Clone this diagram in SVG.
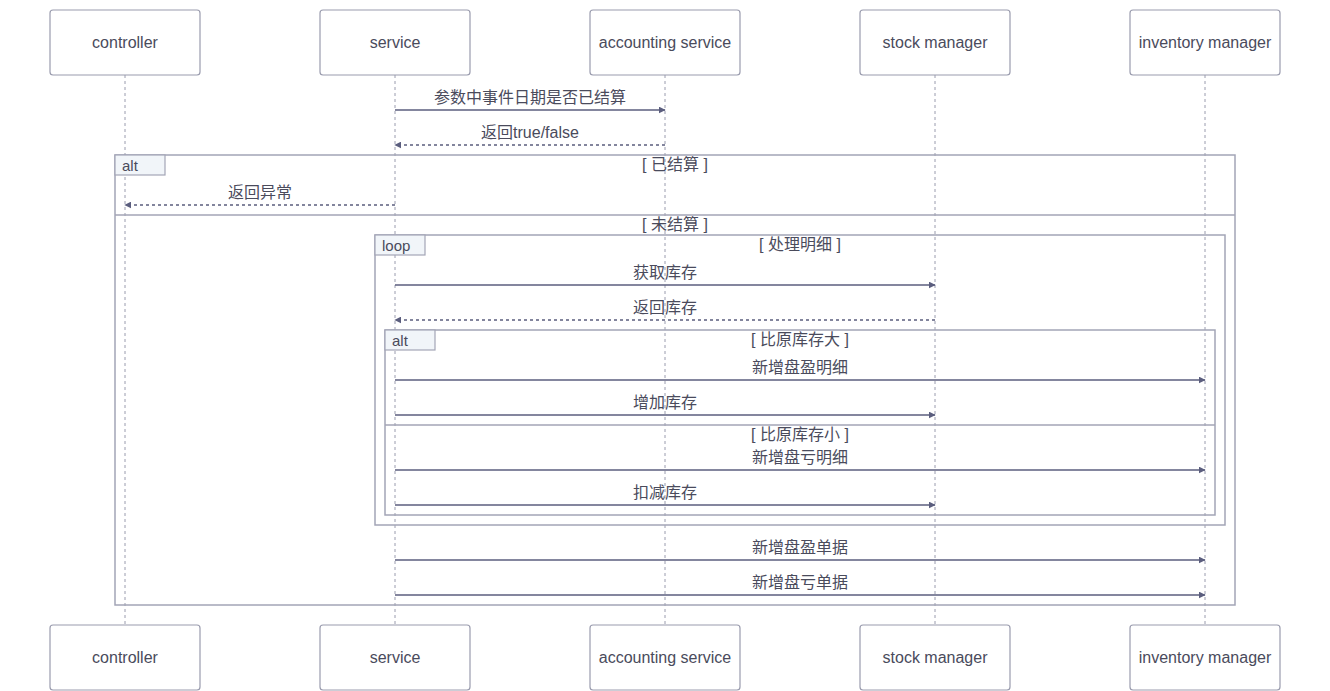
<svg xmlns="http://www.w3.org/2000/svg" width="1330" height="691" viewBox="0 0 1330 691">
  <style>
    .actor { fill: #ffffff; stroke: #9a9cae; stroke-width: 1.2; }
    .life { stroke: #9a9cae; stroke-width: 1; stroke-dasharray: 3 3; fill: none; }
    .txt { font-family: "Liberation Sans", "Noto Sans CJK SC", sans-serif; font-size: 16px; fill: #4a4b5c; text-anchor: middle; dominant-baseline: central; }
    .lbl { font-family: "Liberation Sans", "Noto Sans CJK SC", sans-serif; font-size: 15px; fill: #4a4b5c; text-anchor: start; dominant-baseline: central; }
    .msg { stroke: #5b5e7e; stroke-width: 1.5; fill: none; }
    .ret { stroke: #5b5e7e; stroke-width: 1.5; fill: none; stroke-dasharray: 3 3; }
    .frame { fill: none; stroke: #a3a5b6; stroke-width: 1.5; }
    .tag { fill: #f1f5f9; stroke: #a3a5b6; stroke-width: 1.2; }
  </style>
  <defs>
    <marker id="arrow" viewBox="0 0 10 10" refX="9" refY="5" markerWidth="7" markerHeight="7" orient="auto" markerUnits="userSpaceOnUse">
      <path d="M0,0 L10,5 L0,10 z" fill="#5b5e7e"/>
    </marker>
  </defs>

  <!-- lifelines -->
  <g id="lifelines">
    <line class="life" x1="125" y1="75" x2="125" y2="625"/>
    <line class="life" x1="395" y1="75" x2="395" y2="625"/>
    <line class="life" x1="665" y1="75" x2="665" y2="625"/>
    <line class="life" x1="935" y1="75" x2="935" y2="625"/>
    <line class="life" x1="1205" y1="75" x2="1205" y2="625"/>
  </g>

  <!-- frames -->
  <g id="alt-settled">
    <rect class="frame" x="115" y="155" width="1120" height="450"/>
    <line class="frame" x1="115" y1="215" x2="1235" y2="215"/>
    <rect class="tag" x="115" y="155" width="50" height="20"/>
    <text class="lbl" x="122" y="165">alt</text>
    <text class="txt" x="675" y="164">[ 已结算 ]</text>
    <text class="txt" x="675" y="224">[ 未结算 ]</text>
  </g>
  <g id="loop-detail">
    <rect class="frame" x="375" y="235" width="850" height="290"/>
    <rect class="tag" x="375" y="235" width="50" height="20"/>
    <text class="lbl" x="382" y="245">loop</text>
    <text class="txt" x="800" y="244">[ 处理明细 ]</text>
  </g>
  <g id="alt-stock">
    <rect class="frame" x="385" y="330" width="830" height="185"/>
    <line class="frame" x1="385" y1="425" x2="1215" y2="425"/>
    <rect class="tag" x="385" y="330" width="50" height="20"/>
    <text class="lbl" x="392" y="340">alt</text>
    <text class="txt" x="800" y="339">[ 比原库存大 ]</text>
    <text class="txt" x="800" y="434">[ 比原库存小 ]</text>
  </g>

  <!-- actors -->
  <g id="controller">
    <rect class="actor" x="50" y="10" width="150" height="65" rx="3"/>
    <text class="txt" x="125" y="42.5">controller</text>
  </g>
  <g id="service">
    <rect class="actor" x="320" y="10" width="150" height="65" rx="3"/>
    <text class="txt" x="395" y="42.5">service</text>
  </g>
  <g id="accounting-service">
    <rect class="actor" x="590" y="10" width="150" height="65" rx="3"/>
    <text class="txt" x="665" y="42.5">accounting service</text>
  </g>
  <g id="stock-manager">
    <rect class="actor" x="860" y="10" width="150" height="65" rx="3"/>
    <text class="txt" x="935" y="42.5">stock manager</text>
  </g>
  <g id="inventory-manager">
    <rect class="actor" x="1130" y="10" width="150" height="65" rx="3"/>
    <text class="txt" x="1205" y="42.5">inventory manager</text>
  </g>
  <g id="controller-bottom">
    <rect class="actor" x="50" y="625" width="150" height="65" rx="3"/>
    <text class="txt" x="125" y="657.5">controller</text>
  </g>
  <g id="service-bottom">
    <rect class="actor" x="320" y="625" width="150" height="65" rx="3"/>
    <text class="txt" x="395" y="657.5">service</text>
  </g>
  <g id="accounting-service-bottom">
    <rect class="actor" x="590" y="625" width="150" height="65" rx="3"/>
    <text class="txt" x="665" y="657.5">accounting service</text>
  </g>
  <g id="stock-manager-bottom">
    <rect class="actor" x="860" y="625" width="150" height="65" rx="3"/>
    <text class="txt" x="935" y="657.5">stock manager</text>
  </g>
  <g id="inventory-manager-bottom">
    <rect class="actor" x="1130" y="625" width="150" height="65" rx="3"/>
    <text class="txt" x="1205" y="657.5">inventory manager</text>
  </g>

  <!-- messages -->
  <g id="connectors">
    <line class="msg" x1="395" y1="110" x2="665" y2="110" marker-end="url(#arrow)"/>
    <text class="txt" x="530" y="97">参数中事件日期是否已结算</text>

    <line class="ret" x1="665" y1="145" x2="395" y2="145" marker-end="url(#arrow)"/>
    <text class="txt" x="530" y="132">返回true/false</text>

    <line class="ret" x1="395" y1="205" x2="125" y2="205" marker-end="url(#arrow)"/>
    <text class="txt" x="260" y="192">返回异常</text>

    <line class="msg" x1="395" y1="285" x2="935" y2="285" marker-end="url(#arrow)"/>
    <text class="txt" x="665" y="272">获取库存</text>

    <line class="ret" x1="935" y1="320" x2="395" y2="320" marker-end="url(#arrow)"/>
    <text class="txt" x="665" y="307">返回库存</text>

    <line class="msg" x1="395" y1="380" x2="1205" y2="380" marker-end="url(#arrow)"/>
    <text class="txt" x="800" y="367">新增盘盈明细</text>

    <line class="msg" x1="395" y1="415" x2="935" y2="415" marker-end="url(#arrow)"/>
    <text class="txt" x="665" y="402">增加库存</text>

    <line class="msg" x1="395" y1="470" x2="1205" y2="470" marker-end="url(#arrow)"/>
    <text class="txt" x="800" y="457">新增盘亏明细</text>

    <line class="msg" x1="395" y1="505" x2="935" y2="505" marker-end="url(#arrow)"/>
    <text class="txt" x="665" y="492">扣减库存</text>

    <line class="msg" x1="395" y1="560" x2="1205" y2="560" marker-end="url(#arrow)"/>
    <text class="txt" x="800" y="547">新增盘盈单据</text>

    <line class="msg" x1="395" y1="595" x2="1205" y2="595" marker-end="url(#arrow)"/>
    <text class="txt" x="800" y="582">新增盘亏单据</text>
  </g>
</svg>
